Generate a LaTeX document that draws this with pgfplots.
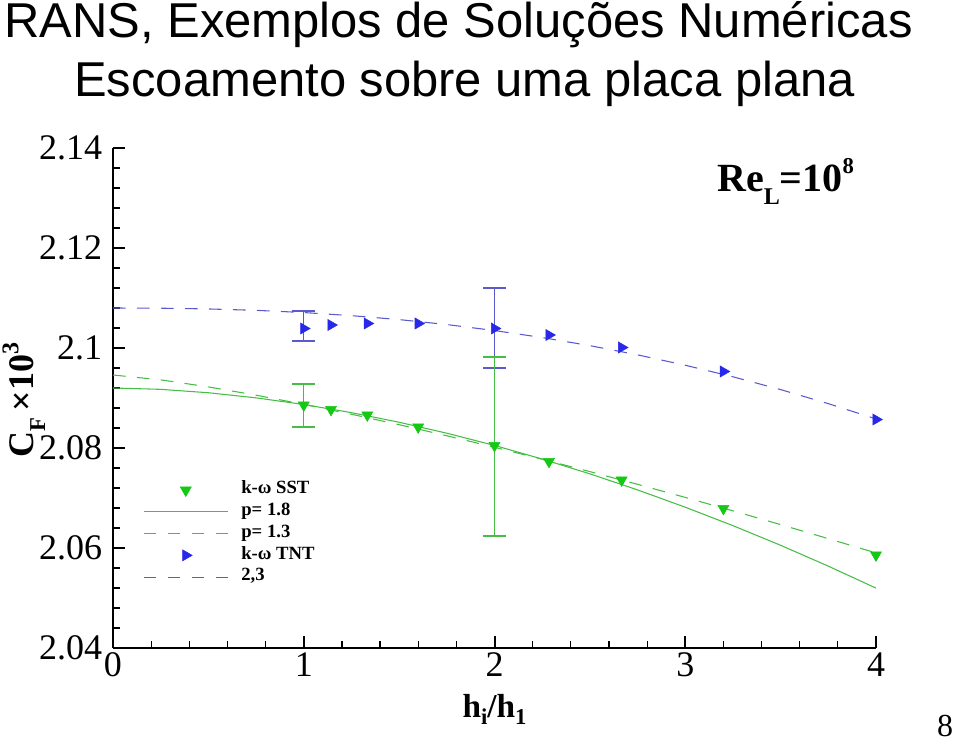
\documentclass[border=0pt]{standalone}
\usepackage{fontspec}
\setmainfont{Liberation Serif}
\newfontfamily\arialf{Liberation Sans}
\usepackage{pgfplots}
\pgfplotsset{compat=1.18}
\definecolor{gmark}{RGB}{20,200,20}
\definecolor{gline}{RGB}{70,190,70}
\definecolor{bmark}{RGB}{40,40,235}
\definecolor{bline}{RGB}{90,90,205}
\newcommand{\fs}[1]{\fontsize{#1}{#1}\selectfont}
\pgfplotsset{mylegimg/.style={legend image code/.code={\draw[mark repeat=2,mark phase=2,##1] plot coordinates {(0pt,0pt) (31.5pt,0pt) (63pt,0pt)};}}}
\begin{document}
\begin{tikzpicture}
\path[use as bounding box] (0,0) rectangle (720pt,556.5pt);
\node[anchor=base west, inner sep=0pt, font=\arialf\fs{36.7}] at (3pt, {(742-38)*0.75pt}) {RANS, Exemplos de Soluções Numéricas};
\node[anchor=base west, inner sep=0pt, font=\arialf\fs{36.7}] at (55.5pt, {(742-97)*0.75pt}) {Escoamento sobre uma placa plana};
\begin{axis}[
  at={(84.75pt,70.5pt)}, anchor=south west,
  scale only axis, width=572.25pt, height=375pt,
  xmin=0, xmax=4, ymin=2.04, ymax=2.14,
  axis x line*=bottom, axis y line*=left,
  axis line style={line width=2.2pt, -},
  xtick={0,1,2,3,4}, xticklabels={0,1,2,3,4},
  ytick={2.04,2.06,2.08,2.1,2.12,2.14},
  yticklabels={2.04,2.06,2.08,2.1,2.12,2.14},
  minor x tick num=4, minor y tick num=4,
  tick align=inside,
  major tick length=9pt, minor tick length=5.5pt,
  every major tick/.append style={line width=1.5pt, black},
  every minor tick/.append style={line width=0.9pt, black},
  xticklabel style={font=\fs{27}, inner sep=0pt, yshift=-3.5pt},
  yticklabel style={font=\fs{27}, inner sep=0pt, xshift=-8pt},
  xlabel={h\raisebox{-5pt}{\fs{17}i}/h\raisebox{-5pt}{\fs{17}1}},
  xlabel style={font=\fs{25}\bfseries, at={(axis description cs:0.5,-0.14)}, anchor=base, inner sep=0pt},
  ylabel={C\raisebox{-9pt}{\fs{17}F}\,×10\raisebox{11pt}{\fs{18}3}},
  ylabel style={font=\fs{27}\bfseries, at={(axis description cs:-0.1048,0.496)}, anchor=base, inner sep=0pt},
  legend style={at={(axis description cs:0.0393,0.338)}, anchor=north west, draw=none, fill=none, inner sep=0pt,
    font=\fs{14}\bfseries, row sep=0pt, column sep=9.75pt,
    nodes={inner sep=0pt, text height=11pt, text depth=5.3pt}},
  legend cell align=left,
]
\addlegendimage{only marks, mark=triangle*, mark size=4.8pt, mark options={rotate=180, fill=gmark, draw=gmark}, mylegimg}
\addlegendentry{k-ω SST}
\addlegendimage{gline, line width=0.8pt, mylegimg}
\addlegendentry{p= 1.8}
\addlegendimage{gline, line width=0.8pt, dash pattern=on 9.5pt off 8.5pt, mylegimg}
\addlegendentry{p= 1.3}
\addlegendimage{only marks, mark=triangle*, mark size=4.8pt, mark options={rotate=-90, fill=bmark, draw=bmark}, mylegimg}
\addlegendentry{k-ω TNT}
\addlegendimage{bline, line width=0.8pt, dash pattern=on 9.5pt off 8.5pt, mylegimg}
\addlegendentry{2,3}

% p = 1.8 (solid green)
\addplot[gline, line width=0.8pt, forget plot] coordinates {
(0,2.09200) (0.25,2.09173) (0.5,2.09105) (0.75,2.09003) (1,2.08870) (1.25,2.08707) (1.5,2.08515) (1.75,2.08296)
(2,2.08051) (2.25,2.07779) (2.5,2.07483) (2.75,2.07162) (3,2.06816) (3.25,2.06447) (3.5,2.06054) (3.75,2.05637) (4,2.05198)};
% p = 1.3 (dashed green)
\addplot[gline, line width=0.8pt, dash pattern=on 9.5pt off 8.5pt, forget plot] coordinates {
(0,2.09460) (0.25,2.09363) (0.5,2.09222) (0.75,2.09056) (1,2.08873) (1.25,2.08675) (1.5,2.08466) (1.75,2.08245)
(2,2.08015) (2.25,2.07775) (2.5,2.07528) (2.75,2.07273) (3,2.07012) (3.25,2.06743) (3.5,2.06468) (3.75,2.06187) (4,2.05901)};
% 2,3 (dashed blue)
\addplot[bline, line width=0.8pt, dash pattern=on 9.5pt off 8.5pt, forget plot] coordinates {
(0,2.10800) (0.25,2.10796) (0.5,2.10781) (0.75,2.10753) (1,2.10709) (1.25,2.10647) (1.5,2.10568) (1.75,2.10469)
(2,2.10349) (2.25,2.10209) (2.5,2.10047) (2.75,2.09863) (3,2.09655) (3.25,2.09424) (3.5,2.09168) (3.75,2.08887) (4,2.08581)};

% error bars
\addplot[draw=none, mark=none, forget plot,
  error bars/.cd, y dir=both, y explicit,
  error bar style={draw=bline, solid, line width=0.8pt},
  error mark options={draw=bline, rotate=90, mark size=8.6pt, line width=0.8pt}]
  coordinates {(1,2.1044) +- (0,0.0030) (2,2.1040) +- (0,0.0080)};
\addplot[draw=none, mark=none, forget plot,
  error bars/.cd, y dir=both, y explicit,
  error bar style={draw=gline, solid, line width=0.8pt},
  error mark options={draw=gline, rotate=90, mark size=8.6pt, line width=0.8pt}]
  coordinates {(1,2.0885) +- (0,0.0043) (2,2.0803) +- (0,0.0179)};

% k-omega SST
\addplot[only marks, mark=triangle*, mark size=4.8pt, mark options={rotate=180, fill=gmark, draw=gmark}, forget plot] coordinates {
(1,2.0886) (1.1429,2.0877) (1.3333,2.0866) (1.6,2.0842) (2,2.0805) (2.2857,2.0773) (2.6667,2.0736) (3.2,2.0679) (4,2.0586)};
% k-omega TNT
\addplot[only marks, mark=triangle*, mark size=4.8pt, mark options={rotate=-90, fill=bmark, draw=bmark}, forget plot] coordinates {
(1,2.1039) (1.1429,2.1046) (1.3333,2.1049) (1.6,2.1049) (2,2.1039) (2.2857,2.1026) (2.6667,2.1001) (3.2,2.0953) (4,2.0857)};
\end{axis}
\node[anchor=base west, inner sep=0pt, font=\fs{30}\bfseries] at ({717*0.75pt}, {(742-191.7)*0.75pt})
  {Re\raisebox{-9.5pt}{\fs{18}L}=10\raisebox{14pt}{\fs{17}8}};
\node[anchor=south, inner sep=0pt, font=\fs{24}] at ({945*0.75pt}, 4pt) {8};
\end{tikzpicture}
\end{document}
